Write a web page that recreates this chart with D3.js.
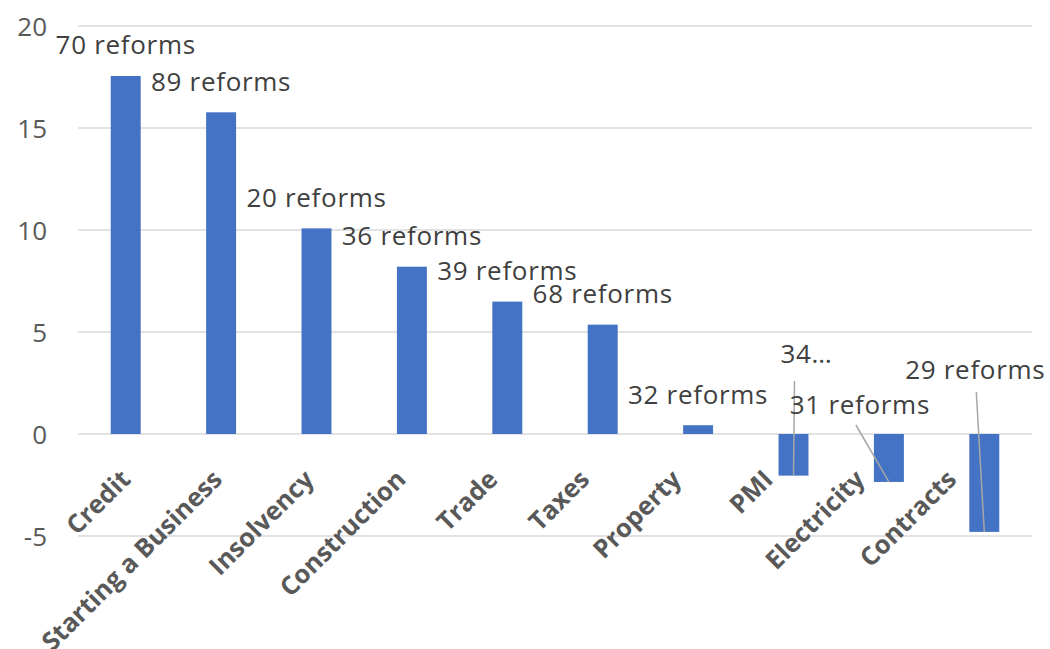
<!DOCTYPE html>
<html>
<head>
<meta charset="utf-8">
<script src="https://cdn.jsdelivr.net/npm/d3@7"></script>
<style>
  html, body { margin: 0; padding: 0; background: #fff; }
  svg { display: block; font-family: "Open Sans", "Noto Sans", sans-serif; }
</style>
</head>
<body>
<svg id="chart" width="1050" height="649"></svg>
<script>
// Reform areas and the average score change per area
const categories = ["Credit", "Starting a Business", "Insolvency", "Construction", "Trade",
                    "Taxes", "Property", "PMI", "Electricity", "Contracts"];
const values = [17.55, 15.77, 10.08, 8.2, 6.49, 5.36, 0.43, -2.04, -2.35, -4.8];
const reformLabels = ["70 reforms", "89 reforms", "20 reforms", "36 reforms", "39 reforms",
                      "68 reforms", "32 reforms", "34…", "31 reforms", "29 reforms"];
const yTicks = [-5, 0, 5, 10, 15, 20];

// Labels of the negative bars were moved by hand and tied back with leader lines:
// label centre offset from the bar's centre/zero line, and where the leader starts relative to that centre.
const movedLabels = {
  "PMI":         { dx: 13,  dy: -80, lead: [-12, 27] },
  "Electricity": { dx: -29, dy: -29, lead: [-4, 20] },
  "Contracts":   { dx: -9,  dy: -64, lead: [1, 22] }
};

const svg = d3.select("#chart");
const plotLeft = 78, plotRight = 1032, plotTop = 26, plotBottom = 536;

const x = d3.scaleBand().domain(categories).range([plotLeft, plotRight])
  .paddingInner(0.686).paddingOuter(0.343);
const y = d3.scaleLinear().domain([-5, 20]).range([plotBottom, plotTop]);
// rotated category labels sit on a slightly tighter pitch than the bars
const xLabel = d3.scalePoint().domain(categories).range([119, 945]);

// gridlines
svg.append("g")
  .selectAll("line").data(yTicks).join("line")
  .attr("x1", plotLeft).attr("x2", plotRight)
  .attr("y1", d => y(d)).attr("y2", d => y(d))
  .attr("stroke", "#d9d9d9").attr("stroke-width", 1.5);

// value axis (plain hyphen for negatives)
const yAxis = d3.axisLeft(y).tickValues(yTicks).tickSize(0).tickPadding(0)
  .tickFormat(d => String(d));
const gy = svg.append("g").attr("transform", "translate(47,0)").call(yAxis);
gy.select(".domain").remove();
gy.selectAll("text")
  .attr("fill", "#595959").attr("font-size", 26)
  .attr("font-family", "'Open Sans', sans-serif")
  .attr("dy", "0.36em");

// bars
svg.append("g")
  .selectAll("rect").data(values).join("rect")
  .attr("x", (d, i) => x(categories[i]))
  .attr("width", x.bandwidth())
  .attr("y", d => y(Math.max(0, d)))
  .attr("height", d => Math.abs(y(d) - y(0)))
  .attr("fill", "#4472c4");

// category labels, rotated
svg.append("g")
  .selectAll("text").data(categories).join("text")
  .attr("transform", d => `translate(${xLabel(d)},468) rotate(-45)`)
  .attr("text-anchor", "end")
  .attr("dy", "0.72em")
  .attr("font-size", 25.5).attr("font-weight", 700)
  .attr("fill", "#595959")
  .text(d => d);

// data labels and leader lines
const lab = svg.append("g");
values.forEach((v, i) => {
  const c = categories[i];
  const cx = x(c) + x.bandwidth() / 2;
  const moved = movedLabels[c];
  let lx, ly;
  if (moved) {
    lx = cx + moved.dx;
    ly = y(0) + moved.dy;
    lab.append("line")
      .attr("x1", lx + moved.lead[0]).attr("y1", ly + moved.lead[1])
      .attr("x2", cx).attr("y2", y(v))
      .attr("stroke", "#a6a6a6").attr("stroke-width", 1.5);
  } else {
    lx = cx;
    ly = y(v) - 31;
  }
  lab.append("text")
    .attr("x", lx).attr("y", ly)
    .attr("dy", "0.36em")
    .attr("text-anchor", "middle")
    .attr("font-size", 26)
    .attr("letter-spacing", "0.7px")
    .attr("fill", "#404040")
    .text(reformLabels[i]);
});
</script>
</body>
</html>
